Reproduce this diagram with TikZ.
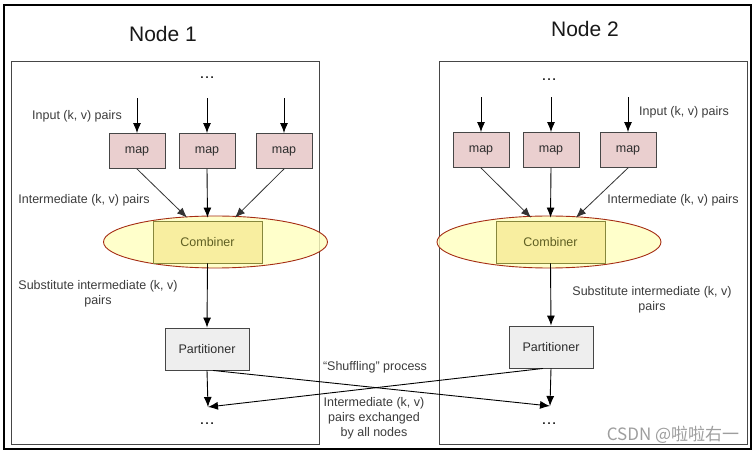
\documentclass[tikz,border=0pt]{standalone}
\usepackage{fontspec}
\setmainfont{Liberation Sans}
\newfontfamily\cjkfont{Noto Sans CJK SC}
\usetikzlibrary{shapes.geometric,arrows.meta,calc}
\definecolor{mapfill}{RGB}{234,207,207}
\definecolor{partfill}{RGB}{238,238,238}
\definecolor{combfill}{RGB}{248,238,160}
\definecolor{combline}{RGB}{135,135,60}
\definecolor{combtxt}{RGB}{95,95,35}
\definecolor{ellfill}{RGB}{255,255,190}
\definecolor{ellline}{RGB}{165,45,20}
\definecolor{boxline}{RGB}{70,70,70}
\definecolor{txt}{RGB}{45,45,45}
\definecolor{lbltxt}{RGB}{60,60,60}
\begin{document}
\begin{tikzpicture}[x=1pt,y=-1pt,
  box/.style={draw=boxline, line width=0.9pt, inner sep=0pt, text=txt,
    font=\fontsize{12.5}{14}\selectfont},
  mapbox/.style={box, fill=mapfill, minimum width=56pt, minimum height=35pt},
  partbox/.style={box, fill=partfill, minimum width=84pt, minimum height=42pt},
  combbox/.style={draw=combline, line width=0.9pt, fill=combfill, inner sep=0pt,
    text=combtxt, minimum width=109pt, minimum height=42pt, font=\fontsize{12.5}{14}\selectfont},
  ell/.style={ellipse, draw=ellline, line width=0.9pt, fill=ellfill, fill opacity=0.8,
    minimum width=224pt, minimum height=52pt, inner sep=0pt},
  nodebox/.style={draw=boxline, line width=0.8pt},
  arr/.style={-{Latex[length=10pt,width=8pt]}, line width=0.9pt, draw=black},
  arrg/.style={-{Latex[length=10pt,width=8pt]}, line width=0.8pt, draw=black!80},
  lbl/.style={font=\fontsize{12.5}{15}\selectfont, text=lbltxt, align=center, inner sep=0pt},
  title/.style={font=\fontsize{21}{24}\selectfont, text=black!90, inner sep=0pt},
  dotsn/.style={font=\fontsize{16}{16}\selectfont, inner sep=0pt}
]
\useasboundingbox (0,0) rectangle (756,454);
\fill[white] (0,0) rectangle (756,454);
\draw[line width=2.2pt] (4,5) rectangle (751,449);

% ---------------- Node 1 ----------------
\node[title] (t1) at (163,34) {Node 1};
\draw[nodebox] (11,61) rectangle (319,444);
\node[dotsn] (d1) at (207,78) {…};
\node[mapbox] (a1) at (137,151) {map};
\node[mapbox] (a2) at (207,151) {map};
\node[mapbox] (a3) at (284,151) {map};
\node[ell] (e1) at (215.5,242) {};
\node[combbox] (c1) at (207.5,242) {Combiner};
\node[partbox] (p1) at (207,349) {Partitioner};
\coordinate (q1) at (208,407);
\node[dotsn] (f1) at (207,424) {…};

\foreach \m in {a1,a2,a3}
  \draw[arr] ($(\m.north)+(0,-35)$) -- (\m.north);
\draw[arrg] (a1.south) -- ($(c1.north)+(-20.5,-3)$);
\draw[arr] (a2.south) -- ($(c1.north)+(0,-3)$);
\draw[arrg] (a3.south) -- ($(c1.north)+(27.5,-3)$);
\draw[arr] (c1.south) -- (p1.north);
\draw[arr] (p1.south) -- (q1);

\node[lbl] (l11) at (77,116) {Input (k, v) pairs};
\node[lbl] (l12) at (84,200) {Intermediate (k, v) pairs};
\node[lbl] (l13) at (98,294) {Substitute intermediate (k, v)\\pairs};

% ---------------- Node 2 ----------------
\node[title] (t2) at (585,29) {Node 2};
\draw[nodebox] (439,61) rectangle (747,444);
\node[dotsn] (d2) at (549,80) {…};
\node[mapbox] (b1) at (481,150) {map};
\node[mapbox] (b2) at (551,150) {map};
\node[mapbox] (b3) at (628,150) {map};
\node[ell] (e2) at (549,242) {};
\node[combbox] (c2) at (550.5,242) {Combiner};
\node[partbox] (p2) at (551,347) {Partitioner};
\coordinate (q2) at (550,406);
\node[dotsn] (f2) at (549,424) {…};

\foreach \m in {b1,b2,b3}
  \draw[arr] ($(\m.north)+(0,-35)$) -- (\m.north);
\draw[arrg] (b1.south) -- ($(c2.north)+(-19.5,-3)$);
\draw[arr] (b2.south) -- ($(c2.north)+(0,-3)$);
\draw[arrg] (b3.south) -- ($(c2.north)+(25.5,-3)$);
\draw[arr] (c2.south) -- (p2.north);
\draw[arr] (p2.south) -- (q2);

\node[lbl] (l21) at (684,112) {Input (k, v) pairs};
\node[lbl] (l22) at (673,200) {Intermediate (k, v) pairs};
\node[lbl] (l23) at (652,300) {Substitute intermediate (k, v)\\pairs};

% ---------------- Shuffling ----------------
\draw[arr] ($(p1.south)+(6,0)$) -- (q2);
\draw[arr] ($(p2.south)+(-8,0)$) -- (q1);
\node[lbl] (s1) at (375,367) {“Shuffling” process};
\node[lbl] (s2) at (374,418) {Intermediate (k, v)\\pairs exchanged\\by all nodes};

% watermark
\node[inner sep=0pt, text=black!38, font=\fontsize{17}{18}\selectfont] (wm) at (673,435) {\cjkfont CSDN @啦啦右一};
\end{tikzpicture}
\end{document}
